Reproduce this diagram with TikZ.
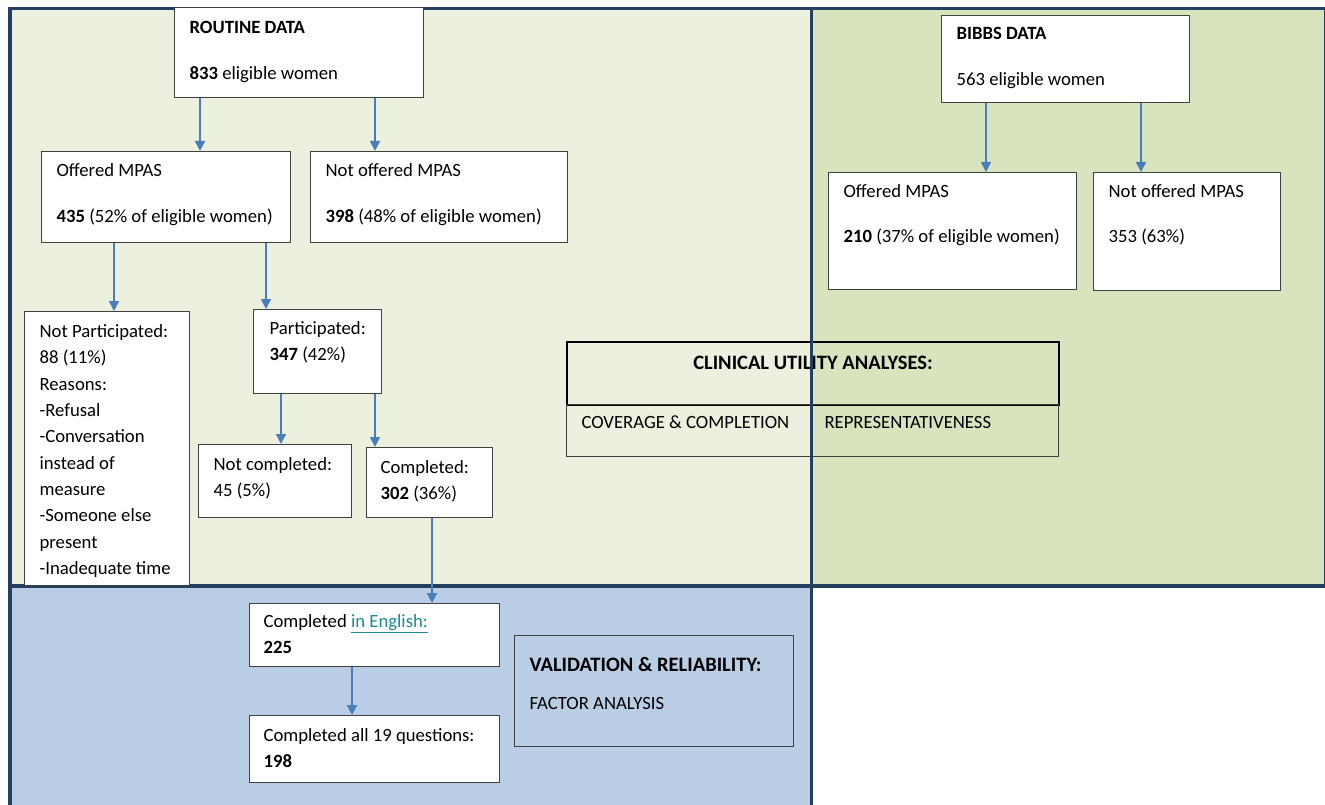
\documentclass[tikz,border=0pt]{standalone}
\usepackage{fontspec}
\setmainfont{Carlito}
\usetikzlibrary{arrows.meta}
\definecolor{pL}{HTML}{EBF1DE}
\definecolor{pR}{HTML}{D7E4BD}
\definecolor{pB}{HTML}{B9CDE5}
\definecolor{navy}{HTML}{243F60}
\definecolor{arrc}{HTML}{4A7EBB}
\definecolor{boxc}{HTML}{404040}
\definecolor{linkc}{HTML}{1F8A8C}
% #1 alignment, #2 width, #3 height, #4 first baseline, #5 content
\newcommand\bt[5][\leftskip=15pt\rightskip=0pt plus 1fil]{\vbox to #3pt{\hsize=#2pt\relax\parindent=0pt\parfillskip=0pt plus 1fil#1\baselineskip=26.3pt\lineskiplimit=-100pt\lineskip=0pt\hrule height0pt width0pt\prevdepth=0pt\vskip\dimexpr#4pt-26.3pt\relax #5\par\vfil}}
\newcommand\gap[1]{\par\vskip#1pt\relax}
\tikzset{
  box/.style={draw=boxc, line width=1.2pt, fill=white, inner sep=0pt, anchor=north west, font=\fontsize{18.7}{26.3}\selectfont},
  cell/.style={draw=boxc, line width=1pt, inner sep=0pt, anchor=north west, font=\fontsize{18.7}{26.3}\selectfont},
  hdr/.style={draw=black, line width=2pt, inner sep=0pt, anchor=north west, font=\fontsize{20.5}{26.3}\selectfont\bfseries},
  arr/.style={draw=arrc, line width=1.8pt, -{Triangle[width=10pt,length=10pt]}},
  panel/.style={draw=navy, line width=3.5pt}
}
\begin{document}
\begin{tikzpicture}[x=1pt,y=-1pt]
\useasboundingbox (0,0) rectangle (1325,805);
% panel fills
\fill[pL] (10,8.5) rectangle (811.5,586);
\fill[pR] (811.5,8.5) rectangle (1325.5,586);
\fill[pB] (10,586) rectangle (811.5,815);
% clinical utility table
\node[hdr] (clin) at (566,341) {\bt[\leftskip=0pt plus 1fil\rightskip=0pt plus 1fil\parfillskip=0pt]{492}{63}{27}{CLINICAL UTILITY ANALYSES:}};
\node[cell] (cov) at (566,404) {\bt{244}{52}{24}{COVERAGE \& COMPLETION}};
\node[cell] (rep) at (810,404) {\bt[\leftskip=14pt\rightskip=0pt plus 1fil]{248}{52}{24}{REPRESENTATIVENESS}};
% panel borders
\draw[panel] (10,8.5) rectangle (811.5,586);
\draw[panel] (811.5,8.5) rectangle (1325.5,586);
\draw[panel] (10,586) -- (10,815) (811.5,586) -- (811.5,815);
% routine data branch
\node[box] (routine) at (174,7) {\bt{249}{90}{26}{\textbf{ROUTINE DATA}\gap{19.7}\textbf{833} eligible women}};
\node[box] (offL) at (41,151) {\bt{249}{91}{25}{Offered MPAS\gap{19.7}\textbf{435} (52\% of eligible women)}};
\node[box] (notoffL) at (310,151) {\bt{257}{91}{25}{Not offered MPAS\gap{19.7}\textbf{398} (48\% of eligible women)}};
\node[box] (notpart) at (24,311) {\bt{165}{274}{26}{Not Participated:\par 88 (11\%)\par Reasons:\par -Refusal\par -Conversation\par instead of\par measure\par -Someone else\par present\par -Inadequate time}};
\node[box] (part) at (253,309) {\bt[\leftskip=16pt\rightskip=0pt plus 1fil]{128}{84}{25}{Participated:\par\textbf{347} (42\%)}};
\node[box] (notcomp) at (198,444) {\bt{153}{73}{26}{Not completed:\par 45 (5\%)}};
\node[box] (comp) at (366,447) {\bt[\leftskip=14pt\rightskip=0pt plus 1fil]{126}{70}{26}{Completed:\par\textbf{302} (36\%)}};
\node[box] (compEng) at (249,603) {\bt[\leftskip=14pt\rightskip=0pt plus 1fil]{250}{63}{24}{Completed {\color{linkc}\underline{in English:}}\par\textbf{225}}};
\node[box] (comp19) at (249,715) {\bt[\leftskip=14pt\rightskip=0pt plus 1fil]{250}{67}{26}{Completed all 19 questions:\par\textbf{198}}};
\node[box, fill=none] (valid) at (514,635) {\bt{279}{111}{36}{{\fontsize{20.5}{26.3}\selectfont\bfseries VALIDATION \& RELIABILITY:}\gap{11.7}FACTOR ANALYSIS}};
% bibbs branch
\node[box] (bibbs) at (941,15) {\bt{248}{87}{24}{\textbf{BIBBS DATA}\gap{19.7}563 eligible women}};
\node[box] (offR) at (828,172) {\bt{248}{117}{25}{Offered MPAS\gap{18.7}\textbf{210} (37\% of eligible women)}};
\node[box] (notoffR) at (1093,172) {\bt{187}{118}{25}{Not offered MPAS\gap{18.7}353 (63\%)}};
% arrow x positions
\coordinate (xa) at (200,0);
\coordinate (xb) at (375,0);
\coordinate (xc) at (986,0);
\coordinate (xd) at (1141,0);
\coordinate (xe) at (114,0);
\coordinate (xf) at (266,0);
\coordinate (xg) at (281,0);
\coordinate (xh) at (375,0);
\coordinate (xi) at (432,0);
\coordinate (xj) at (352,0);
\draw[arr] (routine.south -| xa) -- (offL.north -| xa);
\draw[arr] (routine.south -| xb) -- (notoffL.north -| xb);
\draw[arr] (bibbs.south -| xc) -- (offR.north -| xc);
\draw[arr] (bibbs.south -| xd) -- (notoffR.north -| xd);
\draw[arr] (offL.south -| xe) -- (notpart.north -| xe);
\draw[arr] (offL.south -| xf) -- (part.north -| xf);
\draw[arr] (part.south -| xg) -- (notcomp.north -| xg);
\draw[arr] (part.south -| xh) -- (comp.north -| xh);
\draw[arr] (comp.south -| xi) -- (compEng.north -| xi);
\draw[arr] (compEng.south -| xj) -- (comp19.north -| xj);
\end{tikzpicture}
\end{document}
